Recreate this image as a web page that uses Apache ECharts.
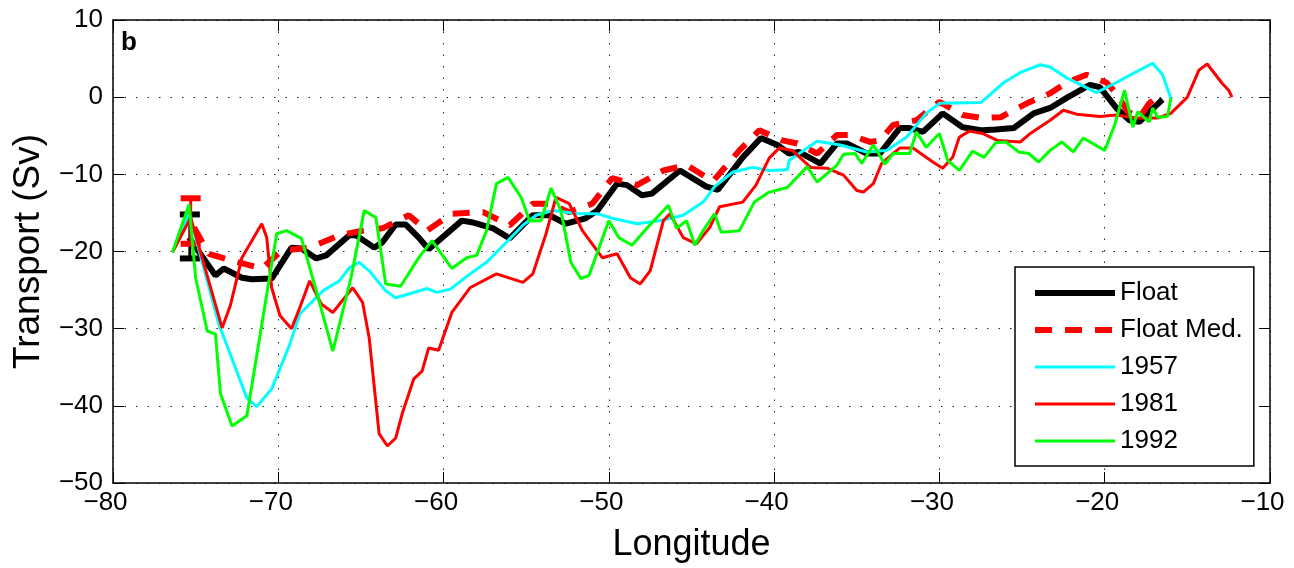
<!DOCTYPE html>
<html>
<head>
<meta charset="utf-8">
<script src="https://cdn.jsdelivr.net/npm/echarts@6/dist/echarts.min.js"></script>
<style>
html,body{margin:0;padding:0;background:#fff;}
#chart{width:1294px;height:568px;}
</style>
</head>
<body>
<div id="chart"></div>
<script>
// ---- data (longitude, transport Sv) ----
var floatSeries = [[-75.4,-18.2],[-73.8,-23.1],[-73.3,-22.2],[-72.2,-23.4],[-71.6,-23.6],[-70.4,-23.5],[-69.2,-19.5],[-68.6,-19.6],[-67.7,-20.9],[-67.1,-20.5],[-65.7,-17.9],[-65.3,-17.9],[-64.2,-19.5],[-63.7,-18.8],[-62.9,-16.5],[-62.3,-16.5],[-61.5,-18.2],[-60.9,-19.7],[-58.9,-16.0],[-58.3,-16.2],[-57.0,-17.0],[-56.0,-18.3],[-54.6,-15.3],[-53.6,-15.3],[-52.6,-16.4],[-51.4,-15.7],[-50.7,-14.7],[-49.5,-11.2],[-48.9,-11.4],[-48.0,-12.7],[-47.4,-12.5],[-45.7,-9.5],[-44.1,-11.6],[-43.4,-12.0],[-41.9,-7.8],[-40.8,-5.3],[-39.8,-6.2],[-39.1,-7.3],[-38.5,-7.1],[-37.2,-8.6],[-36.2,-6.0],[-35.6,-6.0],[-34.4,-7.3],[-33.6,-7.3],[-32.4,-4.0],[-31.8,-4.0],[-31.0,-4.5],[-29.8,-2.1],[-28.6,-3.9],[-27.4,-4.3],[-26.6,-4.2],[-25.5,-4.0],[-24.3,-2.1],[-23.3,-1.4],[-22.3,-0.1],[-20.9,1.6],[-20.3,1.3],[-19.3,-1.4],[-18.5,-3.0],[-17.9,-3.2],[-17.3,-1.9],[-16.5,-0.3]];
var floatMedSeries = [[-75.1,-16.9],[-74.2,-20.3],[-72.8,-21.2],[-71.0,-22.2],[-69.8,-19.9],[-68.1,-19.5],[-66.3,-17.9],[-64.9,-17.3],[-63.7,-17.0],[-62.1,-15.3],[-61.0,-17.3],[-59.5,-15.1],[-57.6,-14.9],[-56.0,-16.6],[-54.6,-13.8],[-53.6,-13.8],[-52.4,-14.9],[-51.0,-13.8],[-49.8,-10.5],[-48.3,-11.4],[-46.7,-9.5],[-45.3,-8.8],[-43.7,-10.9],[-42.1,-6.9],[-40.9,-4.3],[-39.5,-5.6],[-38.6,-6.0],[-37.4,-7.3],[-36.2,-4.9],[-35.4,-4.9],[-34.2,-5.8],[-33.6,-5.6],[-32.8,-3.6],[-31.4,-3.0],[-30.0,-0.6],[-28.6,-2.3],[-27.4,-2.7],[-26.3,-2.6],[-24.7,-0.8],[-23.3,0.5],[-22.3,1.9],[-21.1,2.9],[-19.9,1.9],[-19.3,0.5],[-18.6,-1.9],[-17.9,-2.6],[-17.3,-0.8],[-16.6,0.5]];
var s1957 = [[-76.4,-20.1],[-75.4,-15.0],[-73.6,-29.4],[-71.9,-39.0],[-71.3,-40.1],[-70.4,-37.8],[-69.3,-32.0],[-68.7,-28.1],[-67.3,-25.1],[-66.3,-23.8],[-65.7,-22.1],[-65.1,-21.4],[-64.5,-22.5],[-63.5,-25.1],[-62.9,-26.0],[-62.1,-25.5],[-61.0,-24.8],[-60.4,-25.3],[-59.6,-24.9],[-58.4,-22.9],[-57.4,-21.4],[-56.2,-18.8],[-55.2,-16.6],[-54.4,-15.3],[-53.4,-14.7],[-51.9,-15.1],[-50.7,-15.1],[-49.8,-15.7],[-48.3,-16.4],[-46.9,-16.0],[-45.5,-15.3],[-44.3,-13.6],[-43.6,-11.6],[-42.5,-9.7],[-41.3,-9.1],[-40.3,-9.5],[-39.2,-9.4],[-39.1,-8.2],[-37.4,-5.7],[-36.0,-6.2],[-34.4,-7.1],[-33.2,-6.9],[-32.0,-5.2],[-30.8,-2.1],[-30.0,-0.8],[-27.5,-0.7],[-26.1,1.9],[-25.1,3.2],[-23.9,4.2],[-23.3,3.9],[-22.3,2.5],[-20.5,0.6],[-19.3,1.9],[-17.9,3.5],[-17.1,4.4],[-16.5,2.9],[-16.0,-0.1]];
var s1981 = [[-76.4,-20.1],[-75.3,-15.6],[-73.4,-29.9],[-72.9,-27.0],[-72.2,-20.8],[-71.0,-16.4],[-70.7,-18.2],[-70.4,-24.7],[-69.9,-28.3],[-69.2,-30.0],[-68.7,-27.3],[-68.1,-23.8],[-67.4,-26.8],[-66.7,-27.9],[-65.5,-24.7],[-64.9,-26.6],[-64.5,-31.2],[-63.9,-43.6],[-63.4,-45.2],[-62.9,-44.2],[-62.5,-41.0],[-61.8,-36.5],[-61.3,-35.5],[-60.9,-32.5],[-60.3,-32.8],[-59.5,-27.9],[-58.4,-24.7],[-56.8,-22.9],[-55.2,-24.0],[-54.6,-22.9],[-53.8,-17.7],[-53.2,-13.0],[-52.4,-13.8],[-51.6,-17.3],[-50.4,-20.8],[-49.5,-20.3],[-48.7,-23.4],[-48.1,-24.2],[-47.5,-22.5],[-46.7,-16.0],[-46.3,-15.1],[-45.5,-18.2],[-44.7,-19.0],[-43.9,-16.9],[-43.3,-14.2],[-41.9,-13.6],[-41.1,-11.4],[-40.3,-7.9],[-39.7,-6.6],[-38.9,-6.9],[-37.8,-9.1],[-36.8,-9.2],[-35.8,-10.1],[-35.0,-12.1],[-34.6,-12.3],[-34.0,-11.2],[-33.5,-8.6],[-32.8,-7.3],[-32.4,-6.6],[-31.6,-6.6],[-30.4,-8.4],[-29.8,-9.2],[-29.2,-7.8],[-28.8,-5.2],[-28.2,-4.4],[-27.4,-4.7],[-26.5,-5.6],[-25.1,-5.8],[-24.5,-4.7],[-23.3,-3.0],[-22.5,-1.7],[-21.7,-2.2],[-20.3,-2.5],[-19.3,-2.3],[-18.1,-2.7],[-16.8,-2.7],[-16.0,-2.1],[-15.0,0.0],[-14.3,3.5],[-13.8,4.3],[-13.4,3.2],[-12.9,1.8],[-12.5,0.9],[-12.3,0.0]];
var s1992 = [[-76.4,-20.1],[-75.4,-13.9],[-75.0,-23.4],[-74.3,-30.3],[-73.8,-30.7],[-73.5,-38.4],[-72.8,-42.6],[-71.9,-41.3],[-70.1,-17.7],[-69.5,-17.3],[-68.6,-18.3],[-67.7,-25.1],[-66.7,-32.9],[-65.6,-23.4],[-64.8,-14.7],[-64.1,-15.6],[-63.5,-24.2],[-62.6,-24.5],[-61.5,-20.8],[-60.7,-18.6],[-59.5,-22.2],[-58.6,-20.8],[-58.0,-20.5],[-57.4,-17.3],[-56.8,-11.2],[-56.1,-10.4],[-55.3,-13.0],[-54.8,-16.0],[-54.1,-16.0],[-53.5,-11.8],[-52.9,-14.7],[-52.3,-21.4],[-51.7,-23.5],[-51.2,-23.1],[-50.0,-16.0],[-49.4,-18.2],[-48.6,-19.2],[-47.7,-17.0],[-46.4,-14.0],[-45.9,-17.0],[-45.3,-16.0],[-44.8,-19.2],[-44.3,-17.3],[-43.6,-15.1],[-43.2,-17.5],[-42.1,-17.3],[-41.2,-13.6],[-40.3,-12.3],[-39.2,-11.7],[-38.0,-9.0],[-37.4,-11.0],[-36.2,-8.8],[-35.8,-7.4],[-35.1,-7.3],[-34.7,-8.6],[-34.0,-6.2],[-33.3,-8.7],[-32.8,-7.3],[-31.8,-7.3],[-31.4,-4.5],[-30.8,-6.5],[-30.0,-4.7],[-29.5,-8.2],[-28.8,-9.5],[-28.0,-7.0],[-27.3,-7.8],[-26.6,-5.9],[-26.0,-5.8],[-25.2,-7.1],[-24.6,-7.3],[-24.0,-8.4],[-23.3,-6.9],[-22.6,-5.8],[-21.9,-7.1],[-21.3,-5.3],[-20.0,-6.9],[-19.4,-3.6],[-18.8,0.9],[-18.3,-3.9],[-18.0,-1.9],[-17.3,-3.2],[-17.1,-1.4],[-16.8,-2.6],[-16.2,-2.5],[-16.0,-0.1]];
// error bars: [lon, low, high]
var floatErr = [[-75.35,-20.9,-15.2]];
var floatMedErr = [[-75.3,-19.0,-13.1]];
var seriesNames = ['Float','Float Med.','1957','1981','1992'];
var xTicks = [-80,-70,-60,-50,-40,-30,-20,-10];
var yTicks = [-50,-40,-30,-20,-10,0,10];

function minus(v){ return v < 0 ? '\u2212' + Math.abs(v) : String(v); }

var chart = echarts.init(document.getElementById('chart'), null, {renderer:'canvas'});
var FONT = 'Liberation Sans, Arial, Helvetica, sans-serif';

function errRender(color){
  return function(params, api){
    var x = api.value(0), lo = api.value(1), hi = api.value(2);
    var pLo = api.coord([x, lo]), pHi = api.coord([x, hi]);
    var w = 10;
    var st = {stroke: color, lineWidth: 6, fill: 'none'};
    return {type:'group', children:[
      {type:'line', shape:{x1:pLo[0], y1:pLo[1], x2:pHi[0], y2:pHi[1]}, style:{stroke:color, lineWidth:3}},
      {type:'line', shape:{x1:pLo[0]-w, y1:pLo[1], x2:pLo[0]+w, y2:pLo[1]}, style:st},
      {type:'line', shape:{x1:pHi[0]-w, y1:pHi[1], x2:pHi[0]+w, y2:pHi[1]}, style:st}
    ]};
  };
}

var gridLine = {show:true, lineStyle:{color:'#222', width:1, type:[1.5,10]}};
var axisLineStyle = {show:true, onZero:false, lineStyle:{color:'#000', width:1.5}};
var tickStyle = {show:true, inside:true, length:11, lineStyle:{color:'#000', width:1}};

var option = {
  animation:false,
  backgroundColor:'#fff',
  grid:{left:113, right:24, top:20, bottom:85, containLabel:false},
  xAxis:[{
    type:'value', min:-80, max:-10, interval:10, position:'bottom',
    axisLine:axisLineStyle, axisTick:tickStyle, splitLine:gridLine,
    axisLabel:{formatter:minus, fontSize:26, color:'#000', fontFamily:FONT, margin:7, padding:[0,15,0,0]},
    name:'Longitude', nameLocation:'middle', nameGap:44,
    nameTextStyle:{fontSize:36, color:'#000', fontFamily:FONT}
  },{
    type:'value', min:-80, max:-10, interval:10, position:'top',
    axisLine:axisLineStyle, axisTick:tickStyle, axisLabel:{show:false}, splitLine:{show:false}
  }],
  yAxis:[{
    type:'value', min:-50, max:10, interval:10, position:'left',
    axisLine:axisLineStyle, axisTick:tickStyle, splitLine:gridLine,
    axisLabel:{formatter:minus, fontSize:26, color:'#000', fontFamily:FONT, margin:10},
    name:'Transport (Sv)', nameLocation:'middle', nameGap:66, nameRotate:90,
    nameTextStyle:{fontSize:37, color:'#000', fontFamily:FONT}
  },{
    type:'value', min:-50, max:10, interval:10, position:'right',
    axisLine:axisLineStyle, axisTick:tickStyle, axisLabel:{show:false}, splitLine:{show:false}
  }],
  legend:{
    data:seriesNames, orient:'vertical', left:1015, top:267,
    backgroundColor:'#fff', borderColor:'#000', borderWidth:1.5, borderRadius:0,
    padding:[13,11,12,17], itemWidth:80, itemHeight:20, itemGap:11,
    itemStyle:{opacity:0},
    lineStyle:{width:'inherit', type:'inherit'},
    textStyle:{fontSize:26, color:'#000', fontFamily:FONT}
  },
  graphic:[{type:'text', left:121, top:30, style:{text:'b', font:'bold 26px ' + FONT, fill:'#000'}}],
  series:[
    {name:'Float', type:'line', data:floatSeries, symbol:'none', z:2,
      lineStyle:{color:'#000', width:6}, itemStyle:{color:'#000'}},
    {name:'Float Med.', type:'line', data:floatMedSeries, symbol:'none', z:3,
      lineStyle:{color:'#ff0000', width:6, type:[17,13]}, itemStyle:{color:'#ff0000'}},
    {name:'1957', type:'line', data:s1957, symbol:'none', z:4,
      lineStyle:{color:'#00ffff', width:3}, itemStyle:{color:'#00ffff'}},
    {name:'1981', type:'line', data:s1981, symbol:'none', z:5,
      lineStyle:{color:'#ff0000', width:3}, itemStyle:{color:'#ff0000'}},
    {name:'1992', type:'line', data:s1992, symbol:'none', z:6,
      lineStyle:{color:'#00ff00', width:3}, itemStyle:{color:'#00ff00'}},
    {name:'FloatErr', type:'custom', data:floatErr, renderItem:errRender('#000'), z:2, silent:true},
    {name:'FloatMedErr', type:'custom', data:floatMedErr, renderItem:errRender('#ff0000'), z:3, silent:true}
  ]
};
chart.setOption(option);
</script>
</body>
</html>
